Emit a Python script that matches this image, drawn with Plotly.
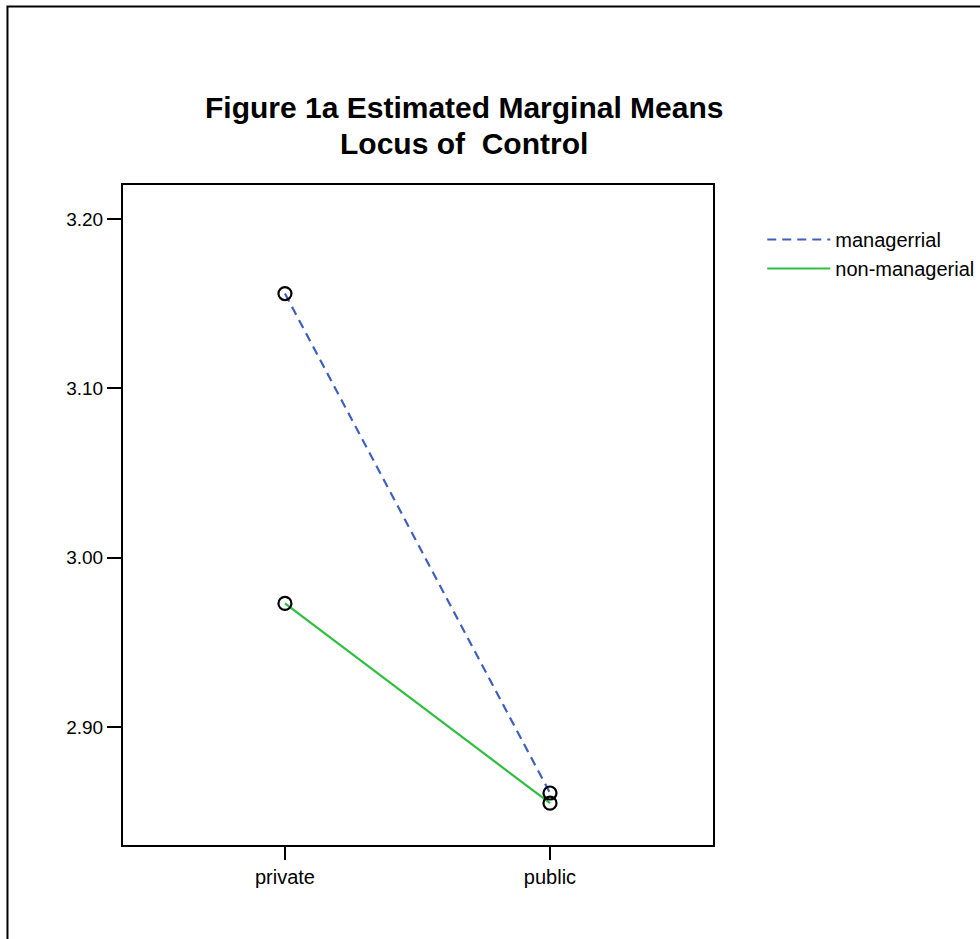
import plotly.graph_objects as go

# Estimated marginal means of Locus of Control by sector and job level
sectors = ["private", "public"]
managerial = [3.156, 2.861]
non_managerial = [2.973, 2.855]
y_ticks = [2.90, 3.00, 3.10, 3.20]
y_tick_labels = ["2.90", "3.00", "3.10", "3.20"]
title_lines = ["Figure 1a Estimated Marginal Means", "Locus of  Control"]

FONT = "Liberation Sans, Arial, sans-serif"
x_pos = list(range(len(sectors)))

series = [
    ("managerrial", managerial, dict(color="#3d5fbf", width=2.2, dash="9px,6px")),
    ("non-managerial", non_managerial, dict(color="#2fbf3f", width=2.2)),
]

fig = go.Figure()
# Lines (shown in the legend)
for name, vals, line in series:
    fig.add_trace(go.Scatter(x=x_pos, y=vals, name=name, mode="lines", line=line))
# Open circle markers at each mean
for name, vals, line in series:
    fig.add_trace(go.Scatter(
        x=x_pos, y=vals, mode="markers", showlegend=False, hoverinfo="skip",
        marker=dict(symbol="circle-open", size=13, color="black", line=dict(width=2.2, color="black")),
    ))

fig.update_layout(
    width=980, height=939,
    margin=dict(l=123, r=267, t=185, b=94, autoexpand=False),
    paper_bgcolor="white", plot_bgcolor="white",
    font=dict(family=FONT, size=19, color="black"),
    showlegend=True,
    legend=dict(
        x=1.0835, y=0.947, xanchor="left", yanchor="top",
        font=dict(family=FONT, size=20, color="black"),
        bgcolor="rgba(0,0,0,0)", tracegroupgap=0, itemwidth=63,
    ),
    xaxis=dict(
        range=[-0.611, 1.615], tickmode="array", tickvals=x_pos, ticktext=sectors,
        showgrid=False, zeroline=False, showline=True, linecolor="black", linewidth=2,
        mirror=True, ticks="outside", ticklen=13, tickwidth=2, tickcolor="black",
        tickfont=dict(family=FONT, size=20, color="black"),
    ),
    yaxis=dict(
        range=[2.8303, 3.2201], tickmode="array", tickvals=y_ticks, ticktext=y_tick_labels,
        showgrid=False, zeroline=False, showline=True, linecolor="black", linewidth=2,
        mirror=True, ticks="outside", ticklen=14, tickwidth=2, tickcolor="black",
        tickfont=dict(family=FONT, size=19, color="black"),
    ),
)

# Two-line bold title
for text, y in zip(title_lines, [1.1167, 1.0636]):
    fig.add_annotation(
        text=f"<b>{text}</b>", xref="paper", yref="paper", x=0.578, y=y,
        xanchor="center", yanchor="middle", showarrow=False,
        font=dict(family=FONT, size=30, color="black"),
    )

# Outer frame around the whole chart (clipped at the right and bottom edges)
fig.add_shape(
    type="rect", xref="paper", yref="paper",
    x0=-0.1958, x1=1.47, y0=-0.16, y1=1.2705,
    line=dict(color="black", width=2), fillcolor="rgba(0,0,0,0)", layer="below",
)

fig.write_html("out.html")
